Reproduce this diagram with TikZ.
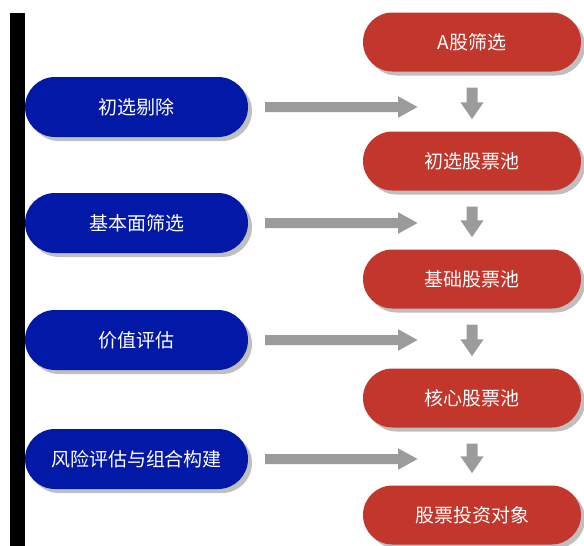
\documentclass[tikz,border=0pt]{standalone}
\usepackage{fontspec}
\setmainfont{Noto Sans CJK SC}
\usetikzlibrary{arrows.meta,shapes.misc,shadows}

\definecolor{poolred}{RGB}{194,54,43}
\definecolor{stageblue}{RGB}{2,24,166}
\definecolor{flowgray}{RGB}{155,155,155}

\tikzset{
	box/.style={rounded rectangle, text=white, inner sep=0pt,
		font=\fontsize{19pt}{22pt}\selectfont,
		drop shadow={shadow xshift=4pt, shadow yshift=-4pt, fill=black!25, opacity=1}},
	stage/.style={box, fill=stageblue, minimum width=223pt, minimum height=60pt},
	pool/.style={box, fill=poolred, minimum width=218pt, minimum height=59pt},
	flowh/.style={flowgray, line width=10pt, -{Triangle[length=20pt, width=20pt]}},
	flowv/.style={flowgray, line width=11pt, -{Triangle[length=17pt, width=22pt]}}
}

\begin{document}
\begin{tikzpicture}[x=1pt, y=-1pt]
	\useasboundingbox (0, 0) rectangle (584, 546);
	\fill[black] (10, 13) rectangle (25, 546);
	
	\foreach \t/\y [count=\i] in {A股筛选/42, 初选股票池/161, 基础股票池/279, 核心股票池/398, 股票投资对象/515}
	\node[pool] (p\i) at (472, \y) {\t};
	
	\foreach \t/\y [count=\i] in {初选剔除/107, 基本面筛选/223, 价值评估/340, 风险评估与组合构建/459}
	{
		\node[stage] (s\i) at (136.5, \y) {\t};
		\coordinate (h\i) at (418, \y);
		\draw[flowh, shorten <=17pt] (s\i) -- (h\i);
	}
	
	\foreach \i [evaluate=\i as \j using int(\i+1)] in {1,...,4}
	\draw[flowv, shorten <=16pt, shorten >=12pt] (p\i) -- (p\j);
	
\end{tikzpicture}
\end{document}
